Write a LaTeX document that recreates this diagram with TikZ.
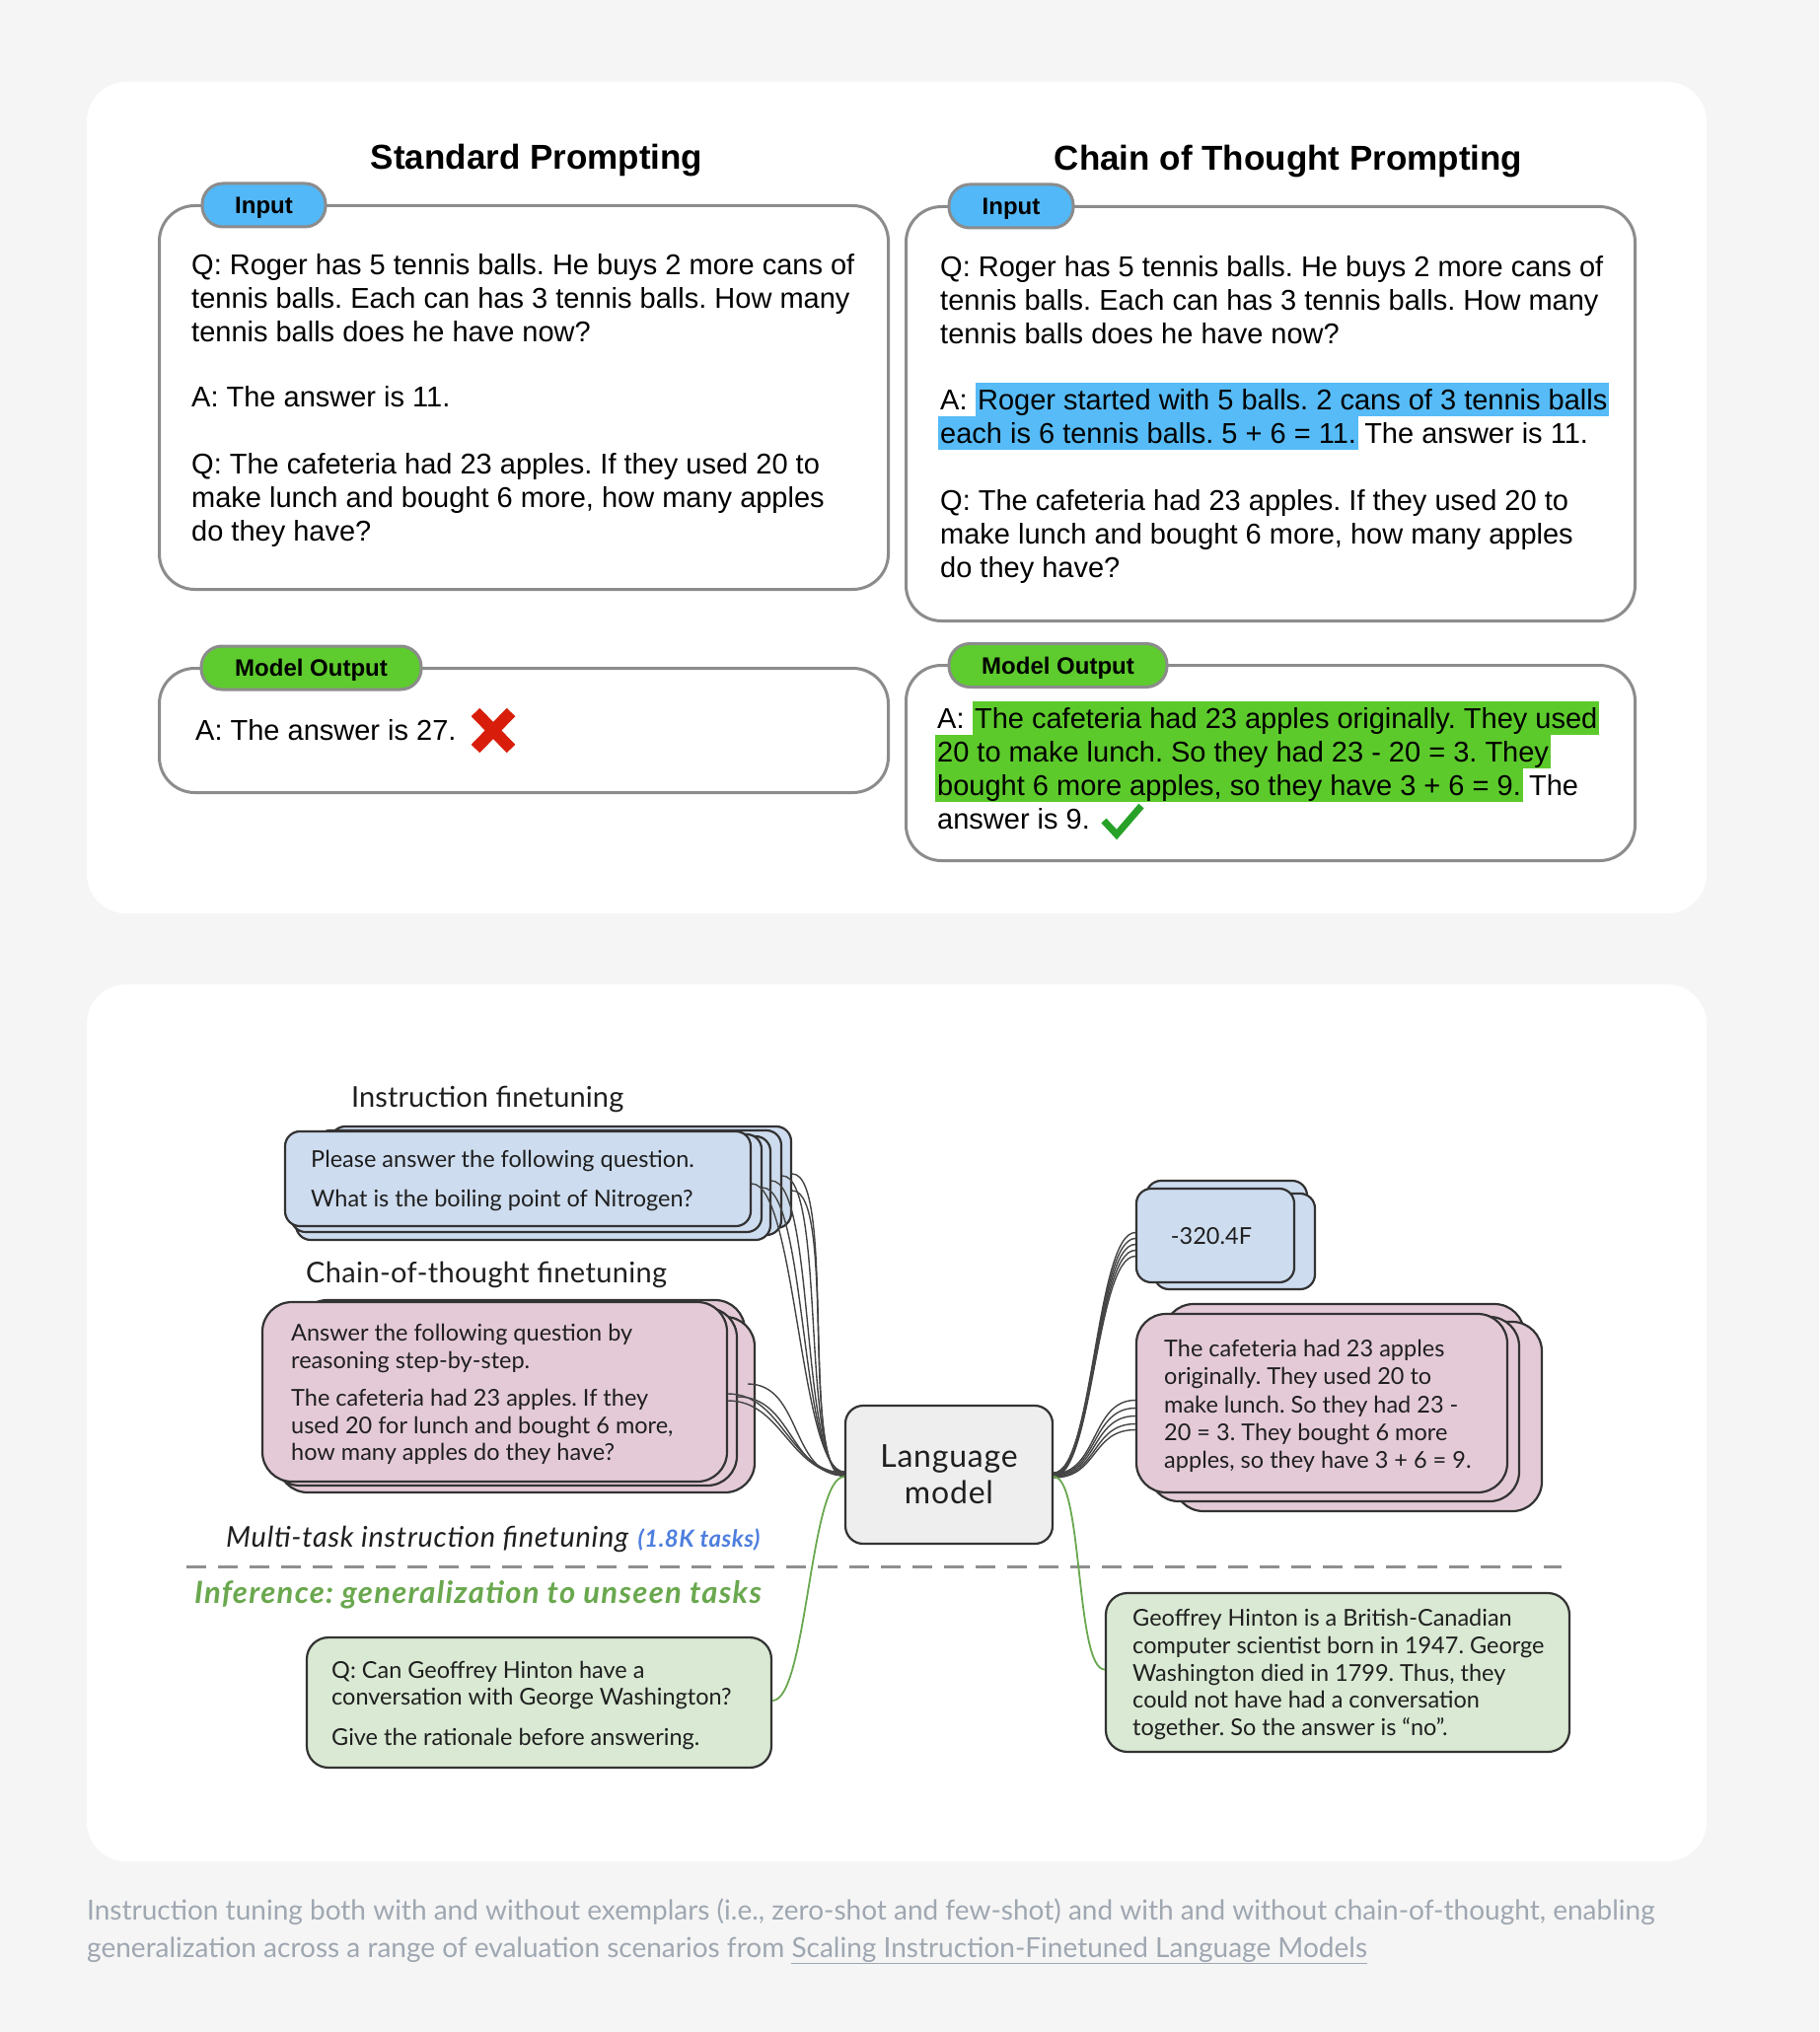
\documentclass[tikz,border=0pt]{standalone}
\usepackage{fontspec}
\setmainfont{Liberation Sans}
\newfontfamily\gsans{Lato}
\frenchspacing
\usetikzlibrary{calc}
\definecolor{pagebg}{HTML}{F5F5F5}
\definecolor{tabblue}{HTML}{52B8F7}
\definecolor{hlblue}{HTML}{56BBF6}
\definecolor{tabgreen}{HTML}{5ECB2E}
\definecolor{hlgreen}{HTML}{5DCA2C}
\definecolor{topborder}{HTML}{8C8C8C}
\definecolor{boxblue}{HTML}{CDDCEE}
\definecolor{boxpink}{HTML}{E4CAD7}
\definecolor{boxgreen}{HTML}{D9E9D3}
\definecolor{boxgray}{HTML}{EEEEEE}
\definecolor{boxline}{HTML}{333333}
\definecolor{dashcol}{HTML}{8F8F8F}
\definecolor{tasksblue}{HTML}{4E7FDE}
\definecolor{infgreen}{HTML}{6AA84F}
\definecolor{capgray}{HTML}{9FA7B1}
\definecolor{xred}{HTML}{D81E0A}
\definecolor{okgreen}{HTML}{27A127}
\definecolor{conncol}{HTML}{444444}
\begin{document}
\begin{tikzpicture}[x=1pt,y=-1pt,
  toptext/.style={anchor=base west, inner sep=0pt, font=\fontsize{29}{34}\selectfont},
  hlb/.style={toptext, fill=hlblue, text height=27pt, text depth=7pt, inner xsep=2pt},
  hlg/.style={toptext, fill=hlgreen, text height=27pt, text depth=7pt, inner xsep=2pt},
  titlefont/.style={anchor=base, inner sep=0pt, font=\bfseries\fontsize{35}{40}\selectfont},
  topbox/.style={draw=topborder, line width=3pt, rounded corners=36pt, fill=white, inner sep=0pt},
  tab/.style={draw=topborder, line width=3pt, rounded corners=21pt, inner xsep=0pt,
    font=\bfseries\fontsize{24}{28}\selectfont, minimum height=44pt, text height=17.5pt, text depth=0pt},
  bbox/.style={draw=boxline, line width=2.2pt, inner sep=0pt},
  btext/.style={anchor=base west, inner sep=0pt, font=\gsans\fontsize{23.5}{28}\selectfont, text=black!88},
  lbl/.style={anchor=base west, inner sep=0pt, font=\gsans\fontsize{29}{34}\selectfont\addfontfeature{LetterSpace=1.2}, text=black!88},
  conn/.style={draw=conncol, line width=1.4pt},
  gconn/.style={draw=infgreen, line width=1.8pt},
  captext/.style={anchor=base west, inner sep=0pt, font=\gsans\fontsize{28}{32}\selectfont, text=capgray}
]
\useasboundingbox (0,0) rectangle (1844,2060);
\fill[pagebg] (0,0) rectangle (1844,2060);
\fill[white, rounded corners=40pt] (88,83) rectangle (1730,926);
\fill[white, rounded corners=40pt] (88,998) rectangle (1730,1887);

% ---------------- top panel ----------------
\node[titlefont] (t1) at (544,172) {Standard Prompting};
\node[titlefont] (t2) at (1306,173) {Chain of Thought Prompting};

\node[topbox, anchor=north west, minimum width=739pt, minimum height=389pt] (in1) at (160,207) {};
\node[topbox, anchor=north west, minimum width=739pt, minimum height=126pt] (out1) at (160,676) {};
\node[topbox, anchor=north west, minimum width=739pt, minimum height=420pt] (in2) at (917,208) {};
\node[topbox, anchor=north west, minimum width=739pt, minimum height=198pt] (out2) at (917,673) {};

\node[tab, fill=tabblue, minimum width=125pt] (tab1) at (267.5,208) {Input};
\node[tab, fill=tabblue, minimum width=126pt] (tab2) at (1025,209) {Input};
\node[tab, fill=tabgreen, minimum width=223pt] (tab3) at (315.5,677) {Model Output};
\node[tab, fill=tabgreen, minimum width=221pt] (tab4) at (1072.5,674.5) {Model Output};

% left input text
\node[toptext] (l1) at (194,278) {Q: Roger has 5 tennis balls. He buys 2 more cans of};
\node[toptext] (l2) at (194,312) {tennis balls. Each can has 3 tennis balls. How many};
\node[toptext] (l3) at (194,346) {tennis balls does he have now?};
\node[toptext] (l4) at (194,412) {A: The answer is 11.};
\node[toptext] (l5) at (194,480) {Q: The cafeteria had 23 apples. If they used 20 to};
\node[toptext] (l6) at (194,514) {make lunch and bought 6 more, how many apples};
\node[toptext] (l7) at (194,548) {do they have?};
% left output
\node[toptext] (lo1) at (198,750) {A: The answer is 27.};
\draw[xred, line width=12pt] (482,722) -- (518,759) (518,722) -- (482,759);

% right input text
\node[toptext] (r1) at (953,280) {Q: Roger has 5 tennis balls. He buys 2 more cans of};
\node[toptext] (r2) at (953,314) {tennis balls. Each can has 3 tennis balls. How many};
\node[toptext] (r3) at (953,348) {tennis balls does he have now?};
\node[toptext] (r4) at (953,415) {A:\kern0.278em};
\node[hlb] (r4h) at (r4.base east) {Roger started with 5 balls. 2 cans of 3 tennis balls};
\node[hlb, xshift=-2pt] (r5h) at (953,449) {each is 6 tennis balls. 5 + 6 = 11.};
\node[toptext] (r5) at (r5h.base east) {\kern0.2em The answer is 11.};
\node[toptext] (r6) at (953,517) {Q: The cafeteria had 23 apples. If they used 20 to};
\node[toptext] (r7) at (953,551) {make lunch and bought 6 more, how many apples};
\node[toptext] (r8) at (953,585) {do they have?};
% right output
\node[toptext] (ro1) at (950,738) {A:\kern0.278em};
\node[hlg] (ro1h) at (ro1.base east) {The cafeteria had 23 apples originally. They used};
\node[hlg, xshift=-2pt] (ro2h) at (950,772) {20 to make lunch. So they had 23 - 20 = 3. They};
\node[hlg, xshift=-2pt] (ro3h) at (950,806) {bought 6 more apples, so they have 3 + 6 = 9.};
\node[toptext] (ro3) at (ro3h.base east) {\kern0.2em The};
\node[toptext] (ro4) at (950,840) {answer is 9.};
\draw[okgreen, line width=7pt, line join=miter] (1119,832) -- (1132,846) -- (1157,817);

% ---------------- bottom panel ----------------
\node[lbl, font=\gsans\fontsize{29}{34}\selectfont\addfontfeature{LetterSpace=0.3}] (lab1) at (356,1122) {Instruction finetuning};
\node[lbl] (lab2) at (310,1300) {Chain-of-thought finetuning};
\node[lbl, font=\gsans\itshape\fontsize{29}{34}\selectfont\addfontfeature{LetterSpace=2.5}] (lab3) at (229,1568) {Multi-task instruction finetuning};
\node[lbl, font=\gsans\bfseries\itshape\fontsize{24}{28}\selectfont\addfontfeature{LetterSpace=2}, text=tasksblue] (lab3b) at ($(lab3.base east)+(9,0)$) {(1.8K tasks)};
\node[lbl, font=\gsans\bfseries\itshape\fontsize{31}{36}\selectfont\addfontfeature{LetterSpace=4.2}, text=infgreen] (lab4) at (197,1625) {Inference: generalization to unseen tasks};
\draw[dashcol, line width=3pt, dash pattern=on 20pt off 12pt] (189,1588) -- (1583,1588);

% instruction stack (blue)
\draw[bbox, fill=boxblue, rounded corners=15pt] (335,1142) rectangle (802,1245);
\draw[bbox, fill=boxblue, rounded corners=15pt] (320,1146) rectangle (792,1252);
\draw[bbox, fill=boxblue, rounded corners=15pt] (300,1152) rectangle (781,1257);
\draw[bbox, fill=boxblue, rounded corners=15pt] (295,1150) rectangle (772,1249);
\node[bbox, fill=boxblue, rounded corners=15pt, minimum width=472pt, minimum height=96pt] (ib) at (525,1195) {};
\node[btext] (ib1) at (315,1183) {Please answer the following question.};
\node[btext] (ib2) at (315,1223) {What is the boiling point of Nitrogen?};

% CoT stack (pink)
\draw[bbox, fill=boxpink, rounded corners=30pt] (302,1318) rectangle (755,1500);
\draw[bbox, fill=boxpink, rounded corners=30pt] (282,1335) rectangle (765,1513);
\draw[bbox, fill=boxpink, rounded corners=30pt] (274,1326) rectangle (747,1506);
\node[bbox, fill=boxpink, rounded corners=30pt, minimum width=471pt, minimum height=182pt] (pb) at (501.5,1411) {};
\node[btext] (pb1) at (295,1359) {Answer the following question by};
\node[btext] (pb2) at (295,1387) {reasoning step-by-step.};
\node[btext] (pb3) at (295,1425) {The cafeteria had 23 apples. If they};
\node[btext] (pb4) at (295,1453) {used 20 for lunch and bought 6 more,};
\node[btext] (pb5) at (295,1480) {how many apples do they have?};

% question (green)
\node[bbox, fill=boxgreen, rounded corners=22pt, minimum width=471pt, minimum height=132pt] (qg) at (546.5,1726) {};
\node[btext] (qg1) at (336,1701) {Q: Can Geoffrey Hinton have a};
\node[btext] (qg2) at (336,1728) {conversation with George Washington?};
\node[btext] (qg3) at (336,1769) {Give the rationale before answering.};

% language model
\node[bbox, fill=boxgray, rounded corners=18pt, minimum width=210pt, minimum height=140pt] (lm) at (962,1495) {};
\node[inner sep=0pt, align=center, font=\gsans\fontsize{32}{37}\selectfont\addfontfeature{LetterSpace=2.5}, text=black!88] (lmt) at (962,1495) {Language\\model};

% right answer stack (blue)
\draw[bbox, fill=boxblue, rounded corners=15pt] (1162,1197) rectangle (1325,1298);
\draw[bbox, fill=boxblue, rounded corners=15pt] (1170,1210) rectangle (1333,1307);
\node[bbox, fill=boxblue, rounded corners=15pt, minimum width=160pt, minimum height=95pt] (ab) at (1232,1252.5) {};
\node[inner sep=0pt, font=\gsans\fontsize{23.5}{28}\selectfont, text=black!88] (abt) at (1228,1253) {-320.4F};

% right CoT answer stack (pink)
\draw[bbox, fill=boxpink, rounded corners=30pt] (1180,1322) rectangle (1545,1515);
\draw[bbox, fill=boxpink, rounded corners=30pt] (1190,1340) rectangle (1563,1532);
\draw[bbox, fill=boxpink, rounded corners=30pt] (1165,1335) rectangle (1540,1522);
\node[bbox, fill=boxpink, rounded corners=30pt, minimum width=376pt, minimum height=181pt] (ap) at (1340,1422.5) {};
\node[btext] (ap1) at (1180,1375) {The cafeteria had 23 apples};
\node[btext] (ap2) at (1180,1403) {originally. They used 20 to};
\node[btext] (ap3) at (1180,1432) {make lunch. So they had 23 -};
\node[btext] (ap4) at (1180,1460) {20 = 3. They bought 6 more};
\node[btext] (ap5) at (1180,1488) {apples, so they have 3 + 6 = 9.};

% right answer (green)
\node[bbox, fill=boxgreen, rounded corners=22pt, minimum width=470pt, minimum height=161pt] (ag) at (1356,1695.5) {};
\node[btext] (ag1) at (1148,1648) {Geoffrey Hinton is a British-Canadian};
\node[btext] (ag2) at (1148,1676) {computer scientist born in 1947. George};
\node[btext] (ag3) at (1148,1704) {Washington died in 1799. Thus, they};
\node[btext] (ag4) at (1148,1731) {could not have had a conversation};
\node[btext] (ag5) at (1148,1759) {together. So the answer is \char"201Cno\char"201D.};

% connectors
\foreach \dx/\dy/\e in {0/5/-3, 11/9/-2, 20/2/-1, 31/-3/0, 41/12/1, 41/-5/2}
  \draw[conn] ($(ib.east)+(\dx,\dy)$) .. controls +(45,0) and +(-45,0) .. ($(lm.west)+(0,\e)$);
\foreach \dx/\dy/\e in {0/2/-2, 0/9/-1, 10/5/0, 20/-8/1}
  \draw[conn] ($(pb.east)+(\dx,\dy)$) .. controls +(55,0) and +(-55,0) .. ($(lm.west)+(0,\e)$);
\foreach \dy/\e in {-3/-2, 3/-1, 9/0, 15/1, 21/2}
  \draw[conn] ($(lm.east)+(0,\e)$) .. controls +(40,0) and +(-40,0) .. ($(ab.west)+(0,\dy)$);
\foreach \dy/\e in {-3/-1, 5/0, 13/1, 21/2, 27/3}
  \draw[conn] ($(lm.east)+(0,\e)$) .. controls +(45,0) and +(-45,0) .. ($(ap.west)+(0,\dy)$);
\draw[gconn] ($(qg.east)+(0,-2)$) .. controls +(35,0) and +(-35,0) .. ($(lm.west)+(0,2)$);
\draw[gconn] ($(lm.east)+(0,2)$) .. controls +(30,0) and +(-30,0) .. ($(ag.west)+(0,-3)$);

% caption
\node[captext] (c1) at (88,1946) {Instruction tuning both with and without exemplars (i.e., zero-shot and few-shot) and with and without chain-of-thought, enabling};
\node[captext] (c2) at (88,1984) {generalization across a range of evaluation scenarios from \underline{Scaling Instruction-Finetuned Language Models}};
\end{tikzpicture}
\end{document}
